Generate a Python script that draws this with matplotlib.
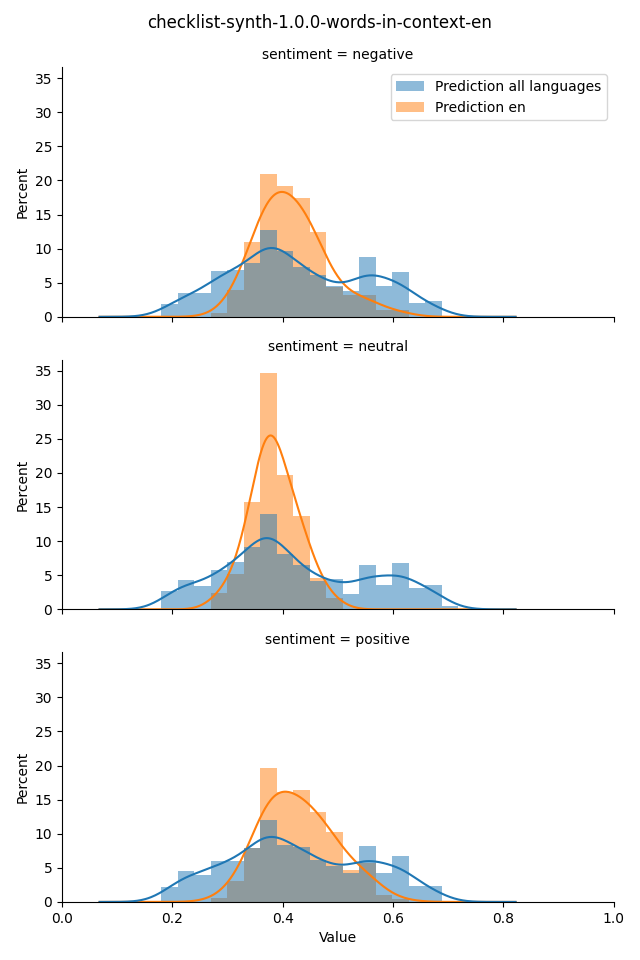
import numpy as np
import matplotlib
matplotlib.use("Agg")
import matplotlib.pyplot as plt
from matplotlib.patches import Patch

# bin edges shared by every facet (width ~0.03)
bin_edges = [0.1796, 0.2095, 0.2394, 0.2693, 0.2992, 0.3291, 0.3590, 0.3889, 0.4188,
             0.4487, 0.4786, 0.5085, 0.5384, 0.5683, 0.5982, 0.6281, 0.6580, 0.6879, 0.7178]

sentiments = ["negative", "neutral", "positive"]

# percent per bin
neg_all = [1.85, 3.45, 3.45, 6.66, 6.85, 7.83, 12.79, 9.58, 7.24, 6.08, 4.47, 3.74, 8.70, 4.47, 6.51, 2.00, 2.28, 0.0]
neg_en = [0.0, 0.0, 0.0, 0.55, 4.00, 10.94, 21.0, 19.2, 17.45, 12.4, 4.30, 3.20, 3.20, 1.02, 1.02, 0.0, 0.0, 0.0]

neu_all = [2.67, 4.28, 3.40, 5.83, 6.90, 9.09, 14.05, 8.12, 6.56, 4.23, 4.47, 2.28, 6.47, 3.60, 6.76, 3.11, 3.55, 0.45]
neu_en = [0.0, 0.0, 0.0, 2.43, 5.20, 15.8, 34.7, 19.74, 13.76, 4.65, 1.60, 0.0, 0.0, 0.0, 0.0, 0.0, 0.0, 0.0]

pos_all = [2.16, 4.47, 3.89, 5.95, 5.93, 7.90, 12.06, 8.41, 8.12, 6.08, 5.30, 4.18, 8.26, 4.18, 6.80, 2.28, 2.28, 0.0]
pos_en = [0.0, 0.0, 0.0, 0.60, 3.01, 7.95, 19.64, 16.09, 16.43, 13.22, 10.3, 4.75, 5.64, 0.97, 0.50, 0.0, 0.0, 0.0]

# kde bandwidths (all languages, en) per facet
kde_bw = {"negative": (0.031, 0.030), "neutral": (0.031, 0.025), "positive": (0.031, 0.032)}
kde_range = (0.068, 0.822)

series = {"negative": (neg_all, neg_en), "neutral": (neu_all, neu_en), "positive": (pos_all, pos_en)}
labels = ["Prediction all languages", "Prediction en"]


def kde_curve(heights, bw, grid):
    # gaussian kde of the binned values, scaled to the histogram area
    edges = np.array(bin_edges)
    centers = (edges[:-1] + edges[1:]) / 2
    widths = np.diff(edges)
    w = np.array(heights)
    z = (grid[:, None] - centers[None, :]) / bw
    dens = (w * np.exp(-0.5 * z ** 2)).sum(axis=1) / (np.sqrt(2 * np.pi) * bw * w.sum())
    return dens * (w * widths).sum()


fig, axes = plt.subplots(3, 1, figsize=(6.4, 9.6), sharex=True, sharey=True)
fig.subplots_adjust(left=0.097, right=0.959, top=0.930, bottom=0.0605, hspace=0.172)
fig.suptitle("checklist-synth-1.0.0-words-in-context-en", fontsize=12, y=0.985)

grid = np.linspace(kde_range[0], kde_range[1], 300)
centers = [(a + b) / 2 for a, b in zip(bin_edges[:-1], bin_edges[1:])]

for ax, sent in zip(axes, sentiments):
    all_vals, en_vals = series[sent]
    bw_all, bw_en = kde_bw[sent]
    # en first so that the all-languages bars sit on top (gray overlap)
    ax.hist(centers, bins=bin_edges, weights=en_vals, color="C1", alpha=0.5, linewidth=0)
    ax.hist(centers, bins=bin_edges, weights=all_vals, color="C0", alpha=0.5, linewidth=0)
    ax.plot(grid, kde_curve(en_vals, bw_en, grid), color="C1", lw=1.5)
    ax.plot(grid, kde_curve(all_vals, bw_all, grid), color="C0", lw=1.5)
    ax.set_title(f"sentiment = {sent}", fontsize=10)
    ax.set_ylabel("Percent")
    ax.spines["top"].set_visible(False)
    ax.spines["right"].set_visible(False)

axes[0].set_xlim(0, 1.0)
axes[0].set_ylim(0, 36.6)
axes[0].set_yticks([0, 5, 10, 15, 20, 25, 30, 35])
axes[-1].set_xlabel("Value")

handles = [Patch(facecolor="C0", alpha=0.5), Patch(facecolor="C1", alpha=0.5)]
axes[0].legend(handles, labels, loc="upper right")

fig.savefig("out.png", dpi=100)
